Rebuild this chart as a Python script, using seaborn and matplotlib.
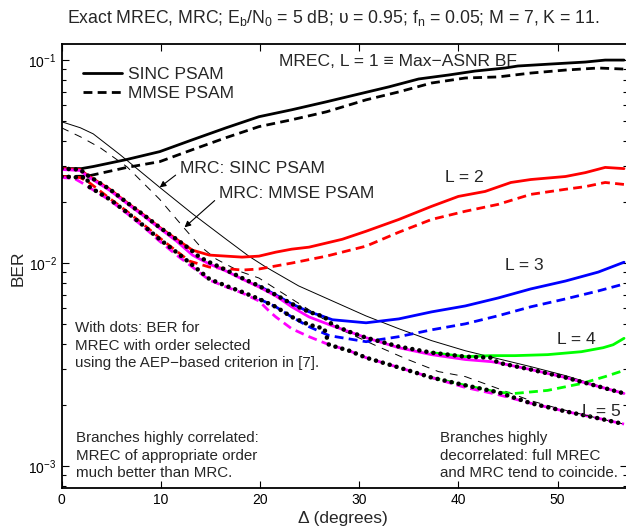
import matplotlib
matplotlib.use("Agg")
import matplotlib.pyplot as plt
import seaborn as sns
import numpy as np
from matplotlib.ticker import LogLocator, NullFormatter, LogFormatterSciNotation

# ---------------- data (BER vs Delta in degrees) ----------------
d_l1s = [0, 2, 3.2, 6.6, 9.9, 13.2, 16.6, 19.9, 23.2, 26.7, 30, 33, 36, 39, 41.7, 44.7, 46, 49.3, 52.8, 54.8, 56.7]
ber_l1s = [0.0292, 0.0292, 0.0299, 0.0324, 0.0354, 0.0405, 0.0464, 0.0526, 0.0569, 0.0623, 0.0681, 0.0738,
           0.0807, 0.0844, 0.0883, 0.0914, 0.0935, 0.0956, 0.0978, 0.1, 0.1]

d_l1m = [0, 2.6, 3.2, 6.6, 9.9, 13.2, 16.6, 19.9, 23.2, 26.7, 30.7, 34.0, 37.3, 40.7, 44.0, 47.3, 50.8, 54.1, 56.7]
ber_l1m = [0.0267, 0.0268, 0.0272, 0.0296, 0.0316, 0.0362, 0.0415, 0.0470, 0.0508, 0.0556, 0.0637, 0.0697,
           0.0771, 0.0816, 0.0826, 0.0863, 0.0893, 0.0914, 0.0903]

d_mrcs = [0, 1.9, 3.2, 5.9, 9.9, 13.2, 16.6, 18.9, 20.6, 23.9, 27.3, 30.7, 34.0, 37.3, 40.7, 44.0, 47.3, 50.8, 54.1, 56.7]
ber_mrcs = [0.0497, 0.0464, 0.0433, 0.0342, 0.0236, 0.0175, 0.0131, 0.0108, 0.00956, 0.00772, 0.00651, 0.00549,
            0.00475, 0.00415, 0.00370, 0.00338, 0.00309, 0.00279, 0.00249, 0.00227]

d_mrcm = [0, 1.9, 3.9, 6.6, 9.9, 12.4, 13.9, 15.6, 17.9, 19.9, 23.2, 28.0, 31.7, 34.7, 38.0, 40.7, 44.0, 47.3,
          50.1, 54.1, 56.7]
ber_mrcm = [0.0464, 0.0419, 0.0370, 0.0298, 0.0206, 0.0148, 0.0122, 0.01046, 0.00913, 0.00844, 0.00666, 0.00474,
            0.00392, 0.00338, 0.00292, 0.00276, 0.00241, 0.00210, 0.00192, 0.00172, 0.00161]

d_l2s = [0, 1.86, 2.66, 4.87, 6.58, 8.33, 9.89, 11.6, 13.2, 14.9, 16.6, 18.2, 19.9, 21.6, 23.2, 24.95, 28.3, 30.7,
         34.0, 37.3, 40.0, 42.7, 45.3, 47.3, 50.8, 52.8, 54.8, 56.7]
ber_l2s = [0.0292, 0.0289, 0.0270, 0.0231, 0.0199, 0.0172, 0.0150, 0.0131, 0.01158, 0.01095, 0.01082, 0.0107,
           0.01082, 0.01132, 0.01171, 0.01198, 0.0131, 0.01435, 0.0164, 0.01903, 0.0213, 0.02254, 0.02495, 0.0258,
           0.0267, 0.0279, 0.0296, 0.0292]

d_l2m = [0, 1.86, 2.66, 4.87, 6.58, 8.33, 9.89, 11.6, 12.9, 14.9, 18.2, 19.9, 23.2, 26.7, 30.7, 34.0, 37.3, 40.7,
         44.0, 47.3, 50.8, 52.8, 54.8, 56.7]
ber_l2m = [0.0267, 0.0264, 0.0252, 0.0208, 0.0180, 0.0154, 0.0133, 0.01145, 0.01023, 0.00956, 0.00924, 0.00935,
           0.0100, 0.01082, 0.01212, 0.01419, 0.0164, 0.0180, 0.01946, 0.0218, 0.0231, 0.0238, 0.02495, 0.0244]

d_l3s = [19.9, 21.6, 23.2, 24.95, 26.2, 27.3, 30.7, 34.0, 37.3, 40.7, 44.0, 47.3, 50.8, 54.1, 56.7]
ber_l3s = [0.00772, 0.00697, 0.00630, 0.00575, 0.00550, 0.00526, 0.00508, 0.00531, 0.00575, 0.00615, 0.00673,
           0.00746, 0.00816, 0.00903, 0.0101]

d_l3m = [19.9, 21.6, 23.2, 24.95, 27.0, 30.7, 34.0, 37.3, 40.7, 44.0, 47.3, 50.8, 54.1, 56.7]
ber_l3m = [0.00666, 0.00609, 0.00543, 0.00486, 0.00439, 0.00410, 0.00434, 0.00469, 0.00502, 0.00550, 0.00609,
           0.00666, 0.00729, 0.00789]

d_l4s = [37.3, 40.7, 43.3, 45.7, 49.0, 52.4, 54.6, 55.6, 56.7]
ber_l4s = [0.00362, 0.00346, 0.00350, 0.00350, 0.00354, 0.00366, 0.00383, 0.00396, 0.00426]

d_l4m = [37.3, 40.7, 44.0, 45.7, 49.0, 52.4, 54.8, 56.7]
ber_l4m = [0.00273, 0.00250, 0.00231, 0.00228, 0.00236, 0.00255, 0.00276, 0.00296]

d_l5s = [0, 1.86, 2.66, 4.87, 6.58, 8.33, 9.89, 11.6, 13.2, 14.9, 16.6, 18.2, 19.9, 21.6, 23.2, 24.95, 26.5, 27.3,
         29.0, 30.7, 34.0, 37.3, 40.7, 43.3, 44.0, 47.3, 50.8, 54.1, 56.7]
ber_l5s = [0.0289, 0.0286, 0.0267, 0.0228, 0.0197, 0.0170, 0.01484, 0.01282, 0.01095, 0.00989, 0.00913, 0.00835,
           0.00763, 0.00689, 0.00609, 0.00543, 0.00508, 0.00491, 0.00459, 0.00429, 0.00383, 0.00354, 0.00335,
           0.00327, 0.00323, 0.00299, 0.00273, 0.00247, 0.00228]

d_l5m = [0, 1.3, 2.0, 2.66, 4.87, 6.58, 8.33, 9.89, 11.6, 13.2, 14.9, 16.6, 18.2, 19.9, 20.9, 21.6, 23.2, 24.95,
         26.7, 29.0, 30.7, 34.0, 37.3, 40.7, 44.0, 47.3, 50.8, 54.1, 56.7]
ber_l5m = [0.0264, 0.0261, 0.02495, 0.0238, 0.0204, 0.0176, 0.0150, 0.01282, 0.01095, 0.00956, 0.00825, 0.00763,
           0.00713, 0.00651, 0.00582, 0.00543, 0.00475, 0.00434, 0.00401, 0.0037, 0.00342, 0.00306, 0.00273,
           0.00244, 0.00225, 0.00204, 0.00186, 0.00172, 0.00161]

d_sels = [0, 1.86, 2.66, 4.87, 6.58, 8.33, 9.89, 11.6, 13.2, 13.9, 14.9, 16.6, 18.2, 19.9, 21.6, 23.2, 24.95, 26.5,
          27.3, 29.0, 30.7, 34.0, 37.3, 40.7, 43.3, 44.0, 47.3, 50.8, 54.1, 56.7]
ber_sels = [0.0292, 0.0289, 0.0270, 0.0231, 0.0199, 0.0172, 0.0150, 0.0131, 0.01145, 0.0107, 0.0101, 0.00924,
            0.00844, 0.00772, 0.00697, 0.00630, 0.00575, 0.00543, 0.00497, 0.00459, 0.00429, 0.00388, 0.00362,
            0.00346, 0.00342, 0.00323, 0.00299, 0.00273, 0.00247, 0.00228]

d_selm = [0, 1.86, 2.56, 2.76, 4.87, 6.58, 8.33, 9.89, 11.6, 13.2, 14.9, 16.6, 18.2, 19.9, 21.6, 23.2, 24.95, 26.5,
          26.95, 29.0, 30.7, 34.0, 37.3, 40.7, 44.0, 47.3, 50.8, 54.1, 56.7]
ber_selm = [0.0267, 0.0264, 0.0264, 0.0238, 0.0206, 0.0178, 0.0152, 0.0131, 0.0113, 0.00978, 0.00835, 0.00772,
            0.00721, 0.00666, 0.00609, 0.00543, 0.00497, 0.00475, 0.00396, 0.00370, 0.00342, 0.00306, 0.00273,
            0.00250, 0.00231, 0.00204, 0.00186, 0.00172, 0.00161]

x_ticks = [0, 10, 20, 30, 40, 50]

# ---------------- style ----------------
sns.set_style("ticks")
plt.rcParams['font.family'] = ['Liberation Sans', 'DejaVu Sans']
plt.rcParams['mathtext.fontset'] = 'custom'
plt.rcParams['mathtext.rm'] = 'Liberation Sans'
plt.rcParams['mathtext.it'] = 'Liberation Sans:italic'
plt.rcParams['mathtext.bf'] = 'Liberation Sans:bold'

W, H = 626, 527
fig = plt.figure(figsize=(W / 100, H / 100), dpi=100)
ax = fig.add_axes([61.5 / W, 1 - 488 / H, (627 - 61.5) / W, (488 - 44) / H])
ax.set_yscale('log')

def draw(x, y, color, lw, ls, **kw):
    sns.lineplot(x=x, y=y, ax=ax, color=color, lw=lw, linestyle=ls, sort=False,
                 estimator=None, legend=False, **kw)

solid = '-'
dash = (0, (3.2, 1.9))
thin_dash = (0, (8, 7))
dot = (0, (0.01, 1.55))

draw(d_l1s, ber_l1s, 'black', 2.0, solid)
draw(d_l1m, ber_l1m, 'black', 2.0, dash)
draw(d_mrcs, ber_mrcs, 'black', 0.7, solid)
draw(d_mrcm, ber_mrcm, 'black', 0.7, thin_dash)
draw(d_l2s, ber_l2s, 'red', 2.0, solid)
draw(d_l2m, ber_l2m, 'red', 2.0, dash)
draw(d_l3s, ber_l3s, 'blue', 2.0, solid)
draw(d_l3m, ber_l3m, 'blue', 2.0, dash)
draw(d_l4s, ber_l4s, '#00ff00', 2.0, solid)
draw(d_l4m, ber_l4m, '#00ff00', 2.0, dash)
draw(d_l5s, ber_l5s, 'magenta', 2.0, solid)
draw(d_l5m, ber_l5m, 'magenta', 2.0, dash)
draw(d_sels, ber_sels, 'black', 3.3, dot, dash_capstyle='round')
draw(d_selm, ber_selm, 'black', 3.3, dot, dash_capstyle='round')

ax.set_xlim(0, 57)
ax.set_ylim(7.8e-4, 0.12)
ax.set_xticks(x_ticks)
ax.set_xticklabels([str(t) for t in x_ticks])
ax.yaxis.set_major_locator(LogLocator(base=10, numticks=10))
ax.yaxis.set_major_formatter(LogFormatterSciNotation())
ax.yaxis.set_minor_locator(LogLocator(base=10, subs=np.arange(2, 10), numticks=20))
ax.yaxis.set_minor_formatter(NullFormatter())
ax.tick_params(which='both', direction='in', top=True, right=True, labelsize=10, colors='black')
ax.tick_params(which='major', length=5, width=0.8)
ax.tick_params(which='minor', length=3, width=0.8)
for s in ax.spines.values():
    s.set_linewidth(1.3)
    s.set_color('black')
ax.set_xlabel('')
ax.set_ylabel('')

# legend
h = ax.get_lines()
leg = ax.legend([h[0], h[1]], ['SINC PSAM', 'MMSE PSAM'], loc='upper left', frameon=False,
                fontsize=12.6, handlelength=2.2, handletextpad=0.4, labelspacing=0.2,
                bbox_to_anchor=(76 / W, 1 - 60 / H), bbox_transform=fig.transFigure, borderaxespad=0)

# texts
def ftext(px, py, s, **kw):
    fig.text(px / W, 1 - py / H, s, **kw)

ftext(333, 18, r'Exact MREC, MRC; E$_\mathregular{b}$/N$_\mathregular{0}$ = 5 dB; υ = 0.95; '
      r'f$_\mathregular{n}$ = 0.05; M = 7, K = 11.', ha='center', va='center', fontsize=12.7)
ftext(343, 519, 'Δ (degrees)', ha='center', va='center', fontsize=12.5)
ftext(18, 268, 'BER', ha='center', va='center', fontsize=12.5, rotation=90)
ftext(279, 62, 'MREC, L = 1 ≡ Max−ASNR BF', ha='left', va='center', fontsize=12.6)
ftext(445, 178, 'L = 2', ha='left', va='center', fontsize=12.6)
ftext(505, 265, 'L = 3', ha='left', va='center', fontsize=12.6)
ftext(557, 339, 'L = 4', ha='left', va='center', fontsize=12.6)
ftext(582, 412, 'L = 5', ha='left', va='center', fontsize=12.6)
ftext(75, 321, 'With dots: BER for\nMREC with order selected\nusing the AEP−based criterion in [7].',
      ha='left', va='top', fontsize=10.9, linespacing=1.32)
ftext(76, 431, 'Branches highly correlated:\nMREC of appropriate order\nmuch better than MRC.',
      ha='left', va='top', fontsize=10.9, linespacing=1.32)
ftext(440, 431, 'Branches highly\ndecorrelated: full MREC\nand MRC tend to coincide.',
      ha='left', va='top', fontsize=10.9, linespacing=1.32)

arrow = dict(arrowstyle='-|>', color='black', lw=0.8, mutation_scale=9, shrinkA=1, shrinkB=0)
ax.annotate('MRC: SINC PSAM', xy=(9.9, 0.0236), xytext=(180 / W, 1 - 168 / H), textcoords='figure fraction',
            ha='left', va='center', fontsize=12.6, arrowprops=dict(arrow, relpos=(0, 0.25)))
ax.annotate('MRC: MMSE PSAM', xy=(12.4, 0.0150), xytext=(219 / W, 1 - 193 / H), textcoords='figure fraction',
            ha='left', va='center', fontsize=12.6, arrowprops=dict(arrow, relpos=(0, 0.25)))

fig.savefig('out.png', dpi=100)
